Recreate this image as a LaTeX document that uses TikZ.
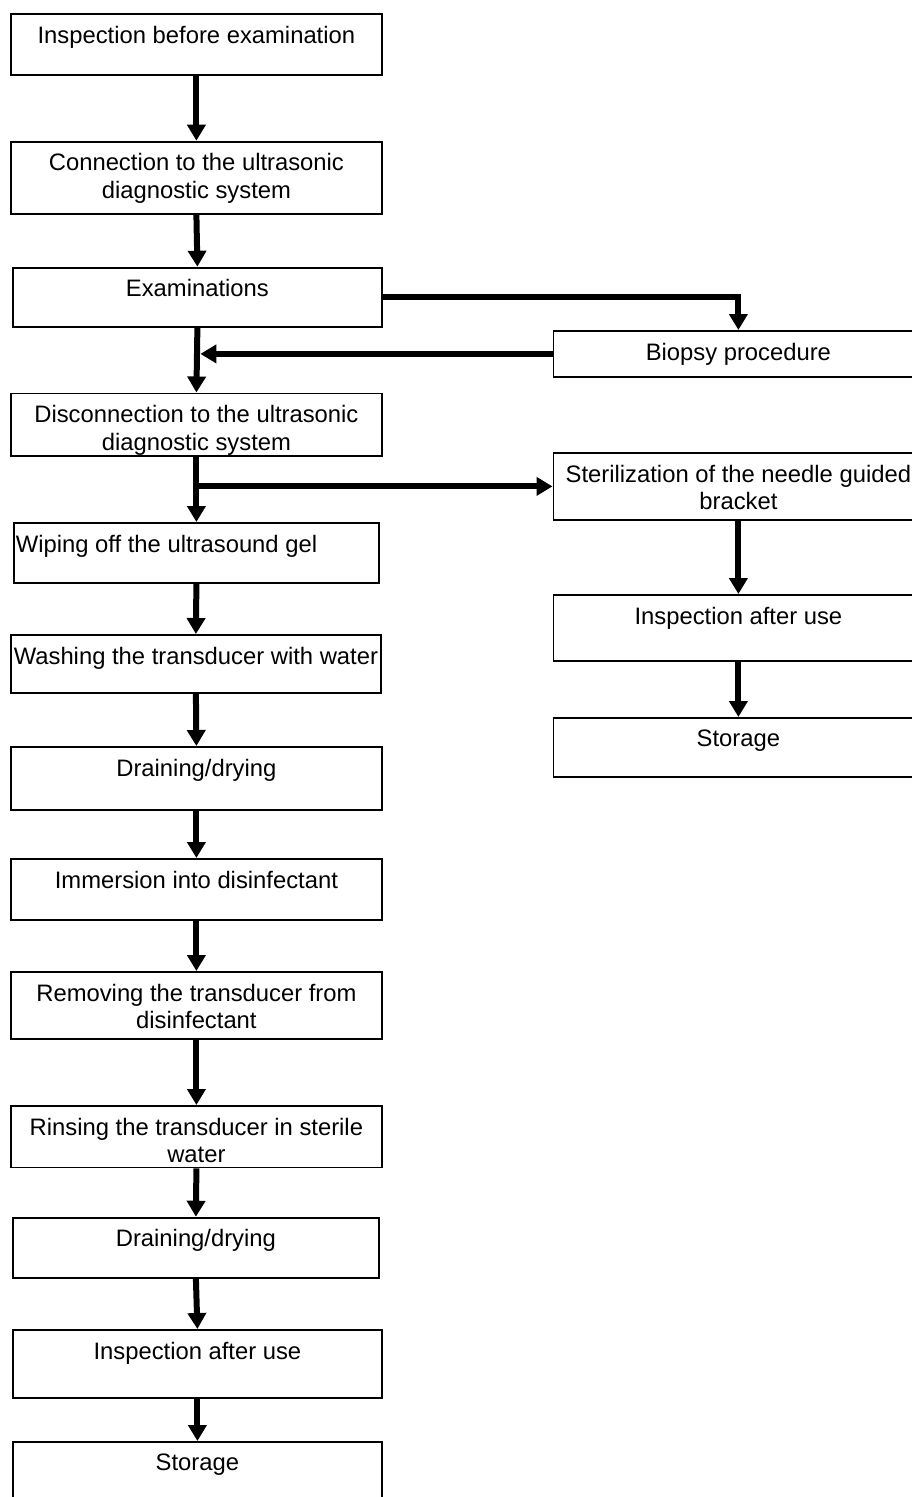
\documentclass[tikz,border=0pt]{standalone}
\usepackage{fontspec}
\setmainfont{Liberation Sans}
\usetikzlibrary{arrows.meta}
\newcommand{\bx}[3]{\parbox[t][#2pt][t]{#1pt}{\vspace*{12pt}\centering #3\par}}
\newcommand{\bxl}[3]{\parbox[t][#2pt][t]{#1pt}{\vspace*{12pt}\raggedright\hspace*{2pt}#3\par}}
\tikzset{
  stepbox/.style={draw, line width=1.8pt, inner sep=0pt, anchor=north west,
    font=\fontsize{23.8}{27.7}\selectfont},
  flow/.style={line width=6pt, -{Triangle[length=16pt,width=18pt]}}
}
\begin{document}
\begin{tikzpicture}[x=1pt,y=-1pt]
\path[use as bounding box] (0,0) rectangle (912,1497);
\clip (0,0) rectangle (912,1497);
% left column
\node[stepbox] (b1) at (10,13) {\bx{371}{61}{Inspection before examination}};
\node[stepbox] (b2) at (10,140.7) {\bx{371}{72.6}{Connection to the ultrasonic\\diagnostic system}};
\node[stepbox] (b3) at (12,266.7) {\bx{369}{59}{Examinations}};
\node[stepbox] (b4) at (10,392.5) {\bx{371}{62.5}{Disconnection to the ultrasonic\\diagnostic system}};
\node[stepbox] (b5) at (13,522) {\bxl{365}{60}{Wiping off the ultrasound gel}};
\node[stepbox] (b6) at (10,634) {\bx{370}{58}{Washing the transducer with water}};
\node[stepbox] (b7) at (10,746) {\bx{371}{63}{Draining/drying}};
\node[stepbox] (b8) at (10,858) {\bx{371}{61}{Immersion into disinfectant}};
\node[stepbox] (b9) at (10,971) {\bx{371}{67}{Removing the transducer from\\disinfectant}};
\node[stepbox] (b10) at (10,1105) {\bx{371}{61.5}{Rinsing the transducer in sterile\\water}};
\node[stepbox] (b11) at (12,1216.7) {\bx{366}{60}{Draining/drying}};
\node[stepbox] (b12) at (12,1329) {\bx{369}{68}{Inspection after use}};
\node[stepbox] (b13) at (12,1441) {\bx{369}{70}{Storage}};
% right column
\node[stepbox] (r1) at (552.5,330) {\bx{370}{46}{Biopsy procedure}};
\node[stepbox] (r2) at (552.5,452) {\bx{370}{67}{Sterilization of the needle guided\\bracket}};
\node[stepbox] (r3) at (552.5,594) {\bx{370}{66}{Inspection after use}};
\node[stepbox] (r4) at (552.5,717) {\bx{370}{59}{Storage}};
% junction points
\coordinate (j1) at ([xshift=3pt]b3.south |- r1.west);
\coordinate (j2) at (b4.south |- r2.west);
% connectors
\draw[flow] (b1.south) -- (b2.north);
\draw[flow] (b2.south) -- (b3.north);
\draw[flow] (b3.south) -- (b4.north);
\draw[flow] (b3.east) -| (r1.north);
\draw[flow] (r1.west) -- (j1);
\draw[flow] (b4.south) -- (b5.north);
\draw[flow] (j2) -- (r2.west);
\draw[flow] (b5.south) -- (b6.north);
\draw[flow] (b6.south) -- (b7.north);
\draw[flow] (b7.south) -- (b8.north);
\draw[flow] (b8.south) -- (b9.north);
\draw[flow] (b9.south) -- (b10.north);
\draw[flow] (b10.south) -- (b11.north);
\draw[flow] (b11.south) -- (b12.north);
\draw[flow] (b12.south) -- (b13.north);
\draw[flow] (r2.south) -- (r3.north);
\draw[flow] (r3.south) -- (r4.north);
\end{tikzpicture}
\end{document}
